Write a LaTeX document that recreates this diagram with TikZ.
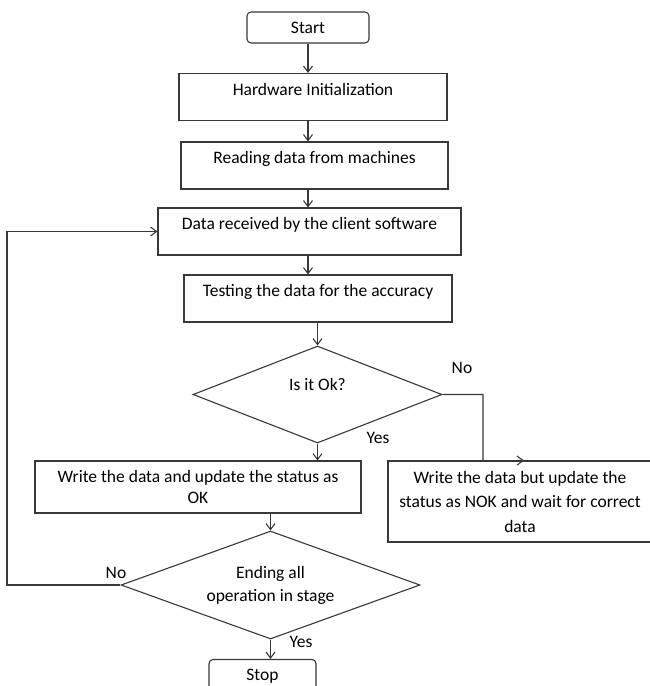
\documentclass[tikz,border=0pt]{standalone}
\usepackage{fontspec}
\setmainfont{Carlito}
\usepackage{xcolor}
\usetikzlibrary{shapes.geometric,arrows.meta}
\colorlet{lineclr}{black!78}
\tikzstyle{term} = [rectangle, draw=lineclr, rounded corners=4pt, minimum height=31pt]
\tikzstyle{proc} = [rectangle, draw=lineclr, text height=12pt, text depth=16pt, minimum height=47pt]
\tikzstyle{multi} = [rectangle, draw=lineclr, align=center]
\tikzstyle{decide} = [diamond, draw=lineclr, aspect=3, inner sep=0pt]
\tikzstyle{invis} = [draw=none]

\begin{document}
\begin{tikzpicture}[->,>={Straight Barb[length=6pt,width=9pt]},x=1pt,y=-1pt,line width=1.1pt,
  every edge/.append style={draw=lineclr},font=\fontsize{17.5}{23}\selectfont]
  \useasboundingbox (0,0) rectangle (649,686);
  \node[term] (start) at (308,27.5) [minimum width=122pt] {Start};
  \node[proc] (hw) at (313,97) [minimum width=268pt] {Hardware Initialization};
  \node[proc] (read) at (314.5,165.5) [minimum width=267pt] {Reading data from machines};
  \node[proc] (data) at (309.5,231.5) [minimum width=303pt] {Data received by the client software};
  \node[proc] (test) at (318,298.5) [minimum width=268pt] {Testing the data for the accuracy};
  \node[decide] (okq) at (317.5,394.5) [minimum width=249pt, minimum height=97pt,
    text height=12pt, text depth=21pt] {Is it Ok?};
  \node[multi] (wok) at (198,487) [minimum width=326pt, minimum height=52pt,
    font=\fontsize{17.5}{21}\selectfont] {Write the data and update the status as\\OK};
  \node[multi] (nok) at (520,501.5) [minimum width=264pt, minimum height=81pt,
    font=\fontsize{17.5}{24.5}\selectfont] {Write the data but update the\\status as NOK and wait for correct\\data};
  \node[decide] (ending) at (270.5,585) [minimum width=299pt, minimum height=108pt,
    align=center] {Ending all\\operation in stage};
  \node[term] (stop) at (262.5,675) [minimum width=107pt, text height=12pt, text depth=2pt] {Stop};
  \node[invis] (no_a) at (462,368) {No};
  \node[invis] (yes_a) at (378,438) {Yes};
  \node[invis] (no_b) at (116,573) {No};
  \node[invis] (yes_b) at (301,642) {Yes};
  \coordinate (turn) at (483,461);
  \coordinate (back) at (7,400);

  \path (start.south) edge node {} (start.south |- hw.north);
  \path (hw.south -| start) edge node {} (read.north -| start);
  \path (read.south -| start) edge node {} (data.north -| start);
  \path (data.south -| start) edge node {} (test.north -| start);
  \path (test.south -| okq) edge node {} (okq.north);
  \path (okq.south) edge node {} (wok.north -| okq);
  \path (wok.south -| ending) edge node {} (ending.north);
  \path (ending.south) edge node {} (ending.south |- stop.north);
  \draw[lineclr] (okq.east) -| (turn) -- ([xshift=4pt]nok.north);
  \draw[lineclr] (ending.west) -| (back) |- (data.west);
\end{tikzpicture}
\end{document}
